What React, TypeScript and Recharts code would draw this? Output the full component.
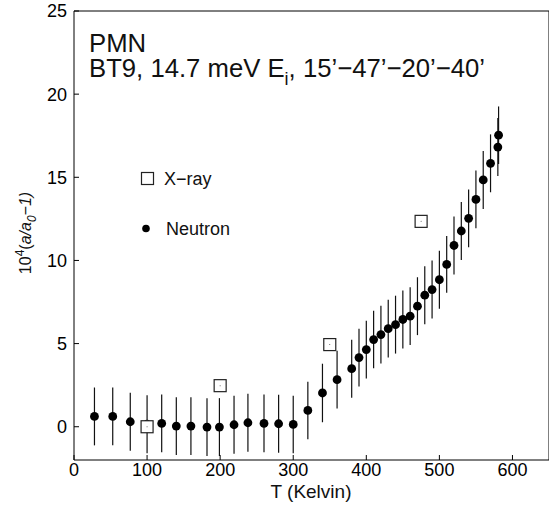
import React from 'react';
import { ScatterChart, Scatter, XAxis, YAxis, ErrorBar } from 'recharts';

// neutron data (T in K, 10^4 (a/a0 - 1), error)
const neutronT = [28, 53, 77, 100, 120, 140, 160, 182, 199, 219, 238, 260, 280, 300, 320, 340, 360, 380, 390, 400, 410, 420, 430, 440, 450, 460, 470, 480, 490, 500, 510, 520, 530, 540, 550, 560, 570, 580, 581];
const neutronV = [0.62, 0.62, 0.3, 0.15, 0.2, 0.04, 0.04, -0.02, -0.02, 0.12, 0.24, 0.2, 0.18, 0.14, 0.98, 2.03, 2.83, 3.49, 4.16, 4.64, 5.24, 5.54, 5.9, 6.14, 6.45, 6.65, 7.25, 7.91, 8.25, 8.84, 9.76, 10.9, 11.77, 12.53, 13.67, 14.84, 15.84, 16.82, 17.53];
const neutronErr = [1.74, 1.74, 1.74, 1.74, 1.74, 1.74, 1.74, 1.74, 1.74, 1.74, 1.74, 1.74, 1.74, 1.73, 1.73, 1.76, 1.74, 1.74, 1.74, 1.74, 1.73, 1.74, 1.74, 1.74, 1.74, 1.74, 1.74, 1.74, 1.74, 1.74, 1.71, 1.74, 1.74, 1.74, 1.74, 1.74, 1.74, 1.74, 1.73];

const xrayT = [100, 200, 350, 475];
const xrayV = [0, 2.47, 4.94, 12.35];

const xTicks = [0, 100, 200, 300, 400, 500, 600];
const yTicks = [0, 5, 10, 15, 20, 25];

const neutronData = neutronT.map((t, i) => ({ t, v: neutronV[i], err: neutronErr[i] }));
const xrayData = xrayT.map((t, i) => ({ t, v: xrayV[i] }));

const FONT = '"Liberation Sans", Arial, Helvetica, sans-serif';

const Dot = (props: any) => <circle cx={props.cx} cy={props.cy} r={4.4} fill="#000" />;
const Square = (props: any) => (
  <g>
    <rect x={props.cx - 6} y={props.cy - 6} width={12} height={12} fill="#fff" stroke="#222" strokeWidth={1.2} />
    <circle cx={props.cx} cy={props.cy} r={0.5} fill="#444" />
  </g>
);
// the frame's top and right axes need a series to exist, but it draws nothing
const Nothing = () => <g />;

export default function App() {
  return (
    <div style={{ position: 'absolute', left: 0, top: 0, width: 549, height: 505, background: '#fff', fontFamily: FONT }}>
      <ScatterChart width={549} height={505} margin={{ top: 11, right: 0, bottom: 0, left: 0 }}>
        <XAxis
          xAxisId="b"
          dataKey="t"
          type="number"
          domain={[0, 650]}
          ticks={xTicks}
          allowDataOverflow
          height={45}
          tickSize={-5}
          tickMargin={8}
          stroke="#000"
          tick={{ fill: '#000', fontSize: 18, fontFamily: FONT }}
        />
        <XAxis
          xAxisId="top"
          dataKey="t"
          orientation="top"
          type="number"
          domain={[0, 650]}
          ticks={xTicks}
          allowDataOverflow
          height={1}
          mirror
          tickSize={5}
          tick={false}
          stroke="#000"
        />
        <YAxis
          yAxisId="l"
          dataKey="v"
          type="number"
          domain={[-2, 25]}
          ticks={yTicks}
          allowDataOverflow
          width={74}
          tickSize={-5}
          tickMargin={12}
          stroke="#000"
          tick={{ fill: '#000', fontSize: 18, fontFamily: FONT }}
        />
        <YAxis
          yAxisId="r"
          dataKey="v"
          orientation="right"
          type="number"
          domain={[-2, 25]}
          ticks={yTicks}
          allowDataOverflow
          width={1}
          mirror
          tickSize={5}
          tick={false}
          stroke="#000"
        />
        <Scatter data={xrayData} xAxisId="top" yAxisId="r" shape={Nothing} isAnimationActive={false} />
        <Scatter data={neutronData} xAxisId="b" yAxisId="l" shape={Dot} isAnimationActive={false}>
          <ErrorBar dataKey="err" direction="y" width={0} stroke="#111" strokeWidth={1.2} />
        </Scatter>
        <Scatter data={xrayData} xAxisId="b" yAxisId="l" shape={Square} isAnimationActive={false} />
      </ScatterChart>
      <svg width={549} height={505} style={{ position: 'absolute', left: 0, top: 0, pointerEvents: 'none' }} fontFamily={FONT}>
        <text x={89} y={52} fontSize={25.7} fill="#111">PMN</text>
        <text x={89} y={77} fontSize={25.7} fill="#111">
          BT9, 14.7 meV E<tspan dy={8} fontSize={18}>i</tspan>
          <tspan dy={-8}>, 15’−47’−20’−40’</tspan>
        </text>
        <rect x={141.5} y={172.5} width={12} height={12} fill="#fff" stroke="#222" strokeWidth={1.2} />
        <text x={164} y={185} fontSize={18} fill="#111">X−ray</text>
        <circle cx={146} cy={228.5} r={3.8} fill="#000" />
        <text x={166} y={235} fontSize={18} fill="#111">Neutron</text>
        <text x={311} y={498} fontSize={19} fill="#111" textAnchor="middle">T (Kelvin)</text>
        <g transform="translate(30.5, 233) rotate(-90)">
          <text x={0} y={0} fontSize={16} fill="#111" textAnchor="middle">
            10<tspan dy={-7} fontSize={12}>4</tspan>
            <tspan dy={7}>(</tspan>
            <tspan fontStyle="italic">a/a</tspan>
            <tspan dy={5} fontSize={12} fontStyle="italic">0</tspan>
            <tspan dy={-5} fontStyle="italic">−1)</tspan>
          </text>
        </g>
      </svg>
    </div>
  );
}
